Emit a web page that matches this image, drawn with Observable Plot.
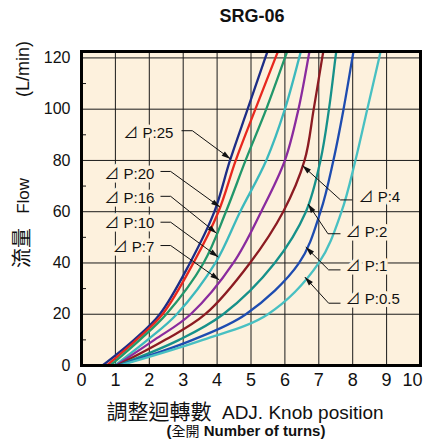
<!DOCTYPE html>
<html>
<head>
<meta charset="utf-8">
<script src="https://cdn.jsdelivr.net/npm/d3@7"></script>
<script src="https://cdn.jsdelivr.net/npm/@observablehq/plot@0.6"></script>
<style>
  body { margin: 0; background: #ffffff; }
  #wrap { position: relative; width: 424px; height: 443px; overflow: hidden;
          font-family: "Liberation Sans", "Noto Sans CJK TC", sans-serif; color: #111; }
  #title { position: absolute; left: 80px; right: 0; top: 7px; text-align: center;
           font-size: 18px; line-height: 18px; font-weight: bold; }
  #chart { position: absolute; left: 0; top: 30px; }
  .rot { position: absolute; white-space: nowrap; transform: translate(-50%, -50%) rotate(-90deg); }
  #ylab1 { left: 23px; top: 223px; font-size: 17px; line-height: 20px; }
  #ylab1 .cjk { font-size: 20px; }
  #ylab2 { left: 23px; top: 69px; font-size: 18px; line-height: 20px; }
  .cap { position: absolute; left: 245px; transform: translateX(-50%); white-space: nowrap; }
  #cap1 { top: 401px; font-size: 19px; line-height: 22px; }
  #cap1 .cjk { font-size: 21px; line-height: 22px; }
  #cap2 { top: 422px; left: 246px; font-size: 15px; line-height: 18px; font-weight: bold; }
  #cap2 .cjk { font-size: 14px; font-weight: normal; }
</style>
</head>
<body>
<div id="wrap">
  <div id="title">SRG-06</div>
  <div id="chart"></div>
  <div id="ylab1" class="rot"><span class="cjk">流量</span>&nbsp;&nbsp; Flow</div>
  <div id="ylab2" class="rot">(L/min)</div>
  <div id="cap1" class="cap"><span class="cjk">調整迴轉數</span>&nbsp; ADJ. Knob position</div>
  <div id="cap2" class="cap">(<span class="cjk">全開</span> Number of turns)</div>
</div>
<script>
// ---- data ----
const flow  = [0, 10, 20, 40, 60, 80, 100, 120, 123];           // L/min
const dp25  = [0.62, 1.55, 2.31, 3.20, 3.92, 4.38, 4.90, 5.42, 5.50]; // turns
const dp20  = [0.75, 1.62, 2.39, 3.30, 4.04, 4.55, 5.13, 5.72, 5.81];
const dp16  = [0.85, 1.72, 2.50, 3.60, 4.26, 4.84, 5.45, 6.00, 6.08];
const dp10  = [0.98, 1.95, 2.81, 3.95, 4.68, 5.45, 6.00, 6.42, 6.48];
const dp7   = [1.02, 2.15, 3.22, 4.48, 5.30, 6.00, 6.40, 6.69, 6.73];
const dp4   = [1.05, 2.47, 3.65, 4.97, 5.95, 6.58, 6.85, 7.10, 7.14];
const dp2   = [1.08, 2.88, 4.18, 5.70, 6.62, 7.05, 7.30, 7.49, 7.52];
const dp1   = [1.10, 3.28, 4.85, 6.42, 7.05, 7.43, 7.73, 7.99, 8.03];
const dp05  = [1.12, 3.58, 5.50, 7.00, 7.67, 8.08, 8.43, 8.78, 8.83];

const seriesNames = ["⊿ P:25", "⊿ P:20", "⊿ P:16", "⊿ P:10", "⊿ P:7", "⊿ P:4", "⊿ P:2", "⊿ P:1", "⊿ P:0.5"];
const seriesTurns = [dp25, dp20, dp16, dp10, dp7, dp4, dp2, dp1, dp05];
const seriesColors = ["#1d2d86", "#e8281e", "#22976b", "#3cb9bd", "#8a2b9e", "#8c1b22", "#16918a", "#1e4cb0", "#48c0c2"];

const xTicks = [0, 1, 2, 3, 4, 5, 6, 7, 8, 9, 10];
const xTickLast = [10];
const yTicks = [0, 20, 40, 60, 80, 100, 120];
const yMinor = [10, 30, 50, 70, 90, 110];

// annotation layout (label placement, in data units)
const annSide      = ["left", "left", "left", "left", "left", "right", "right", "right", "right"];
const annTextX     = [2.71, 2.15, 2.15, 2.15, 2.15, 8.17, 7.79, 7.79, 7.79];
const annTextY     = [90.5, 74.8, 65.1, 55.4, 46.2, 65.7, 52.0, 38.6, 26.0];
const annLineY     = [91.6, 75.7, 66.0, 55.9, 46.8, 64.6, 51.4, 37.3, 24.3];
const annLineStart = [2.95, 2.33, 2.33, 2.33, 2.33, 7.99, 7.64, 7.64, 7.64];
const annCorner    = [3.27, 2.63, 2.63, 2.63, 2.63, 7.64, 7.27, 7.29, 7.29];
const annTipFlow   = [80.6, 61.8, 51.6, 42.3, 33.4, 78.0, 63.0, 46.2, 34.5];

// ---- build ----
const W = 424, H = 370, mT = 21, mB = 35, mL = 81, mR = 4;
const yMax = 122.5;
const kx = (W - mL - mR) / 10, ky = (H - mT - mB) / yMax;

const rows = seriesNames.flatMap((name, i) =>
  flow.map((f, j) => ({series: name, flow: f, turns: seriesTurns[i][j]})));

function turnsAt(xs, y) {
  for (let j = 1; j < flow.length; j++) {
    if (y <= flow[j]) {
      const t = (y - flow[j - 1]) / (flow[j] - flow[j - 1]);
      return xs[j - 1] + t * (xs[j] - xs[j - 1]);
    }
  }
  return xs[xs.length - 1];
}

const ann = seriesNames.map((name, i) => {
  const tipX = turnsAt(seriesTurns[i], annTipFlow[i]);
  const vx = (tipX - annCorner[i]) * kx;
  const vy = -(annTipFlow[i] - annLineY[i]) * ky;
  return {
    label: name, side: annSide[i],
    tx: annTextX[i], ty: annTextY[i], ly: annLineY[i],
    sx: annLineStart[i], cx: annCorner[i],
    tipX, tipY: annTipFlow[i],
    angle: Math.atan2(vx, -vy) * 180 / Math.PI
  };
});

const arrowHead = {draw(ctx) { ctx.moveTo(0, 0); ctx.lineTo(2.7, 9); ctx.lineTo(-2.7, 9); ctx.closePath(); }};
const bg = "#fdf1dd";
const textStyle = {fontSize: 15, fill: "#111", stroke: bg, strokeWidth: 7, paintOrder: "stroke"};

const chart = Plot.plot({
  width: W, height: H,
  marginTop: mT, marginBottom: mB, marginLeft: mL, marginRight: mR,
  x: {domain: [0, 10]},
  y: {domain: [0, yMax]},
  color: {domain: seriesNames, range: seriesColors},
  style: {fontFamily: '"Liberation Sans", "Noto Sans CJK TC", sans-serif', background: "transparent", color: "#111"},
  marks: [
    Plot.frame({fill: bg}),
    Plot.gridX(xTicks, {stroke: "#1a1a1a", strokeOpacity: 1, strokeWidth: 1}),
    Plot.gridY(yTicks, {stroke: "#1a1a1a", strokeOpacity: 1, strokeWidth: 1}),
    Plot.tickY(yMinor, {y: d => d, insetRight: W - mL - mR - 5, stroke: "#111", strokeWidth: 1}),
    Plot.line(rows, {x: "turns", y: "flow", z: "series", stroke: "series", strokeWidth: 2.3, curve: "catmull-rom", clip: true}),
    Plot.text(ann.filter(d => d.side === "left"), {x: "tx", y: "ty", text: "label", textAnchor: "end", ...textStyle}),
    Plot.text(ann.filter(d => d.side === "right"), {x: "tx", y: "ty", text: "label", textAnchor: "start", ...textStyle}),
    Plot.link(ann, {x1: "sx", y1: "ly", x2: "cx", y2: "ly", stroke: "#111", strokeWidth: 1}),
    Plot.link(ann, {x1: "cx", y1: "ly", x2: "tipX", y2: "tipY", stroke: "#111", strokeWidth: 1}),
    Plot.dot(ann, {x: "tipX", y: "tipY", symbol: arrowHead, r: 4, rotate: "angle", fill: "#111", stroke: "none"}),
    Plot.axisX(xTicks.filter(t => !xTickLast.includes(t)), {tickSize: 0, tickPadding: 8, fontSize: 18, label: null}),
    Plot.axisX(xTickLast, {tickSize: 0, tickPadding: 8, fontSize: 18, label: null, textAnchor: "end", dx: 2}),
    Plot.axisY(yTicks, {tickSize: 0, tickPadding: 11, fontSize: 16, label: null}),
    Plot.frame({stroke: "#000", strokeWidth: 3})
  ]
});
document.getElementById("chart").appendChild(chart);
</script>
</body>
</html>
